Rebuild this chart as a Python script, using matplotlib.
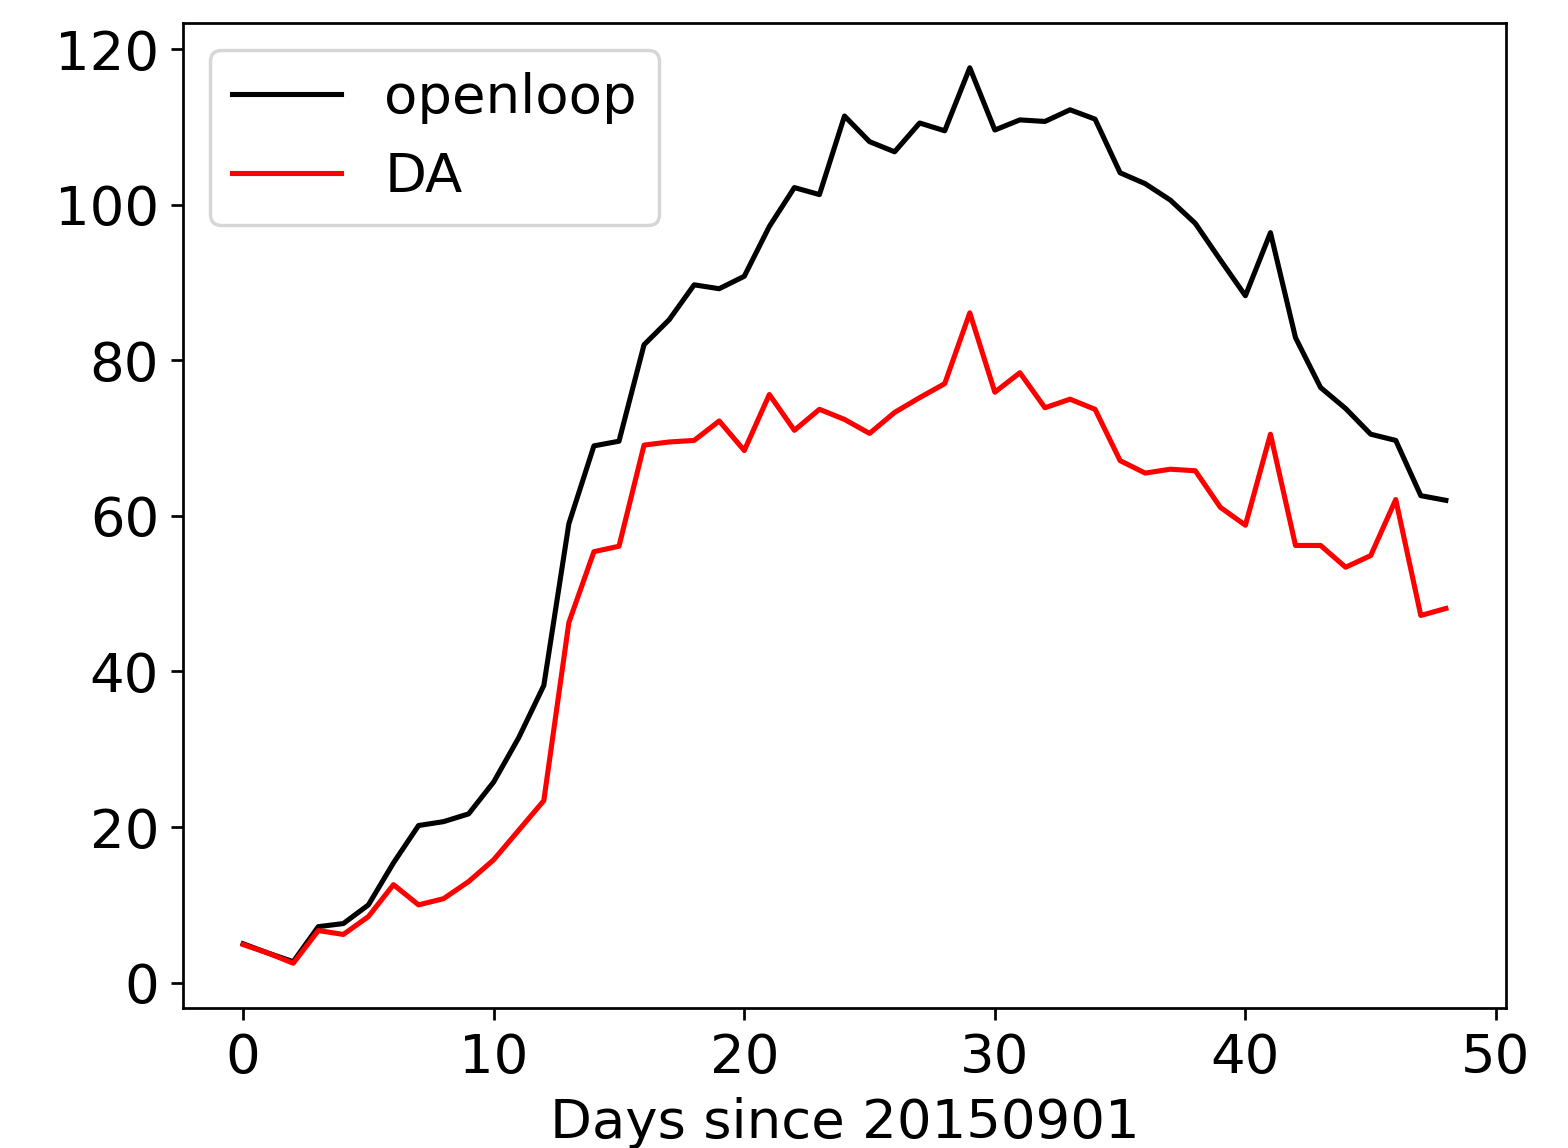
import matplotlib
matplotlib.use("Agg")
import matplotlib.pyplot as plt
import numpy as np

days = list(range(49))
openloop = [5.0, 3.8, 2.7, 7.2, 7.6, 10.0, 15.4, 20.2, 20.7, 21.7,
            25.8, 31.5, 38.2, 59.0, 69.0, 69.6, 82.0, 85.2, 89.7, 89.2,
            90.8, 97.2, 102.2, 101.3, 111.4, 108.1, 106.8, 110.5, 109.5, 117.6,
            109.6, 110.9, 110.7, 112.2, 111.0, 104.1, 102.7, 100.6, 97.6, 92.9,
            88.3, 96.4, 82.9, 76.5, 73.8, 70.5, 69.7, 62.6, 62.0]
da = [4.9, 3.8, 2.5, 6.7, 6.2, 8.5, 12.6, 10.0, 10.8, 13.0,
      15.8, 19.6, 23.4, 46.3, 55.4, 56.1, 69.1, 69.5, 69.7, 72.2,
      68.4, 75.6, 71.0, 73.7, 72.4, 70.6, 73.3, 75.2, 77.0, 86.1,
      75.9, 78.4, 73.9, 75.0, 73.7, 67.1, 65.5, 66.0, 65.8, 61.1,
      58.8, 70.5, 56.2, 56.2, 53.4, 54.9, 62.1, 47.2, 48.1]

W, H, DPI = 1568, 1148, 245
plt.rcParams['font.size'] = 16
fig = plt.figure(figsize=(W / DPI, H / DPI), dpi=DPI)
ax = fig.add_axes([183 / W, 1 - 1008 / H, (1506 - 183) / W, (1008 - 23) / H])
ax.plot(days, openloop, color='black', label='openloop')
ax.plot(days, da, color='red', label='DA')
ax.set_yticks([0, 20, 40, 60, 80, 100, 120])
ax.set_xticks([0, 10, 20, 30, 40, 50])
ax.set_xlabel('Days since 20150901')
ax.legend(loc='upper left')
fig.savefig('out.png', dpi=DPI)
